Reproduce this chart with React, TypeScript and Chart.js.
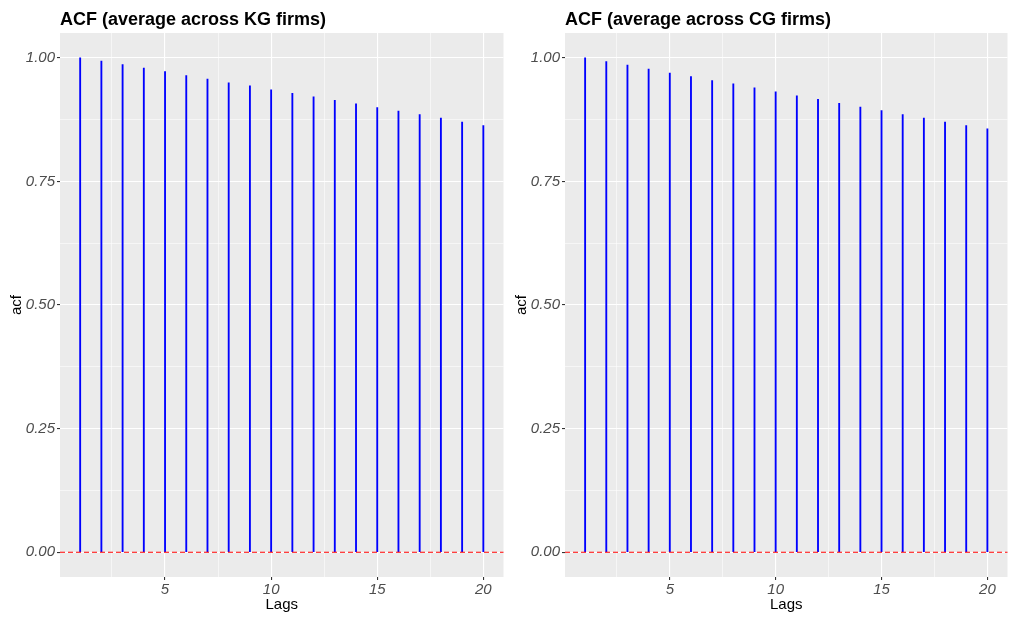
import React, { useEffect, useRef } from "react";
import { Chart, registerables } from "chart.js";
Chart.register(...registerables);

const lags = [1, 2, 3, 4, 5, 6, 7, 8, 9, 10, 11, 12, 13, 14, 15, 16, 17, 18, 19, 20];
const kgAcf = [1.0, 0.993, 0.986, 0.979, 0.972, 0.964, 0.957, 0.949, 0.943, 0.935, 0.928, 0.921, 0.914, 0.907, 0.899, 0.892, 0.885, 0.878, 0.87, 0.863];
const cgAcf = [1.0, 0.992, 0.985, 0.977, 0.969, 0.962, 0.954, 0.947, 0.939, 0.931, 0.923, 0.916, 0.908, 0.9, 0.893, 0.885, 0.878, 0.87, 0.863, 0.856];
const xMajor = [5, 10, 15, 20];
const xMinor = [2.5, 7.5, 12.5, 17.5];
const yMajor = [0, 0.25, 0.5, 0.75, 1];
const yMinor = [0.125, 0.375, 0.625, 0.875];
const refLine = 0;

const FONT = "'Liberation Sans', Arial, Helvetica, sans-serif";

function isMajor(v: number, majors: number[]) {
  return majors.some((m) => Math.abs(m - v) < 1e-9);
}

function Panel({ title, values, left }: { title: string; values: number[]; left: number }) {
  const ref = useRef<HTMLCanvasElement | null>(null);
  useEffect(() => {
    const canvas = ref.current!;
    const bgPlugin = {
      id: "bg",
      beforeDraw(chart: any) {
        const { ctx, chartArea } = chart;
        ctx.save();
        ctx.fillStyle = "#EBEBEB";
        ctx.fillRect(chartArea.left, chartArea.top, chartArea.right - chartArea.left, chartArea.bottom - chartArea.top);
        ctx.restore();
      },
      afterDatasetsDraw(chart: any) {
        const { ctx, chartArea } = chart;
        const y = chart.scales.y.getPixelForValue(refLine);
        ctx.save();
        ctx.strokeStyle = "#FF0000";
        ctx.lineWidth = 1.2;
        ctx.setLineDash([5, 3]);
        ctx.beginPath();
        ctx.moveTo(chartArea.left, y);
        ctx.lineTo(chartArea.right, y);
        ctx.stroke();
        ctx.restore();
      },
      afterDraw(chart: any) {
        const { ctx, chartArea } = chart;
        ctx.save();
        ctx.fillStyle = "#000000";
        ctx.font = `bold 18px ${FONT}`;
        ctx.textBaseline = "alphabetic";
        ctx.textAlign = "left";
        ctx.fillText(title, chartArea.left, 24.5);
        ctx.restore();
      },
    };
    const chart = new Chart(canvas, {
      type: "bar",
      data: {
        datasets: [
          {
            data: lags.map((l, i) => ({ x: l, y: values[i] })),
            backgroundColor: "#0000FF",
            borderWidth: 0,
            barThickness: 1.2,
          } as any,
        ],
      },
      options: {
        animation: false,
        responsive: false,
        devicePixelRatio: 1,
        layout: { padding: { left: 0, right: 1.5, top: 33, bottom: 0 } },
        plugins: { legend: { display: false }, tooltip: { enabled: false }, title: { display: false } },
        scales: {
          x: {
            type: "linear",
            offset: false,
            min: 0.05,
            max: 20.95,
            afterBuildTicks: (scale: any) => {
              scale.ticks = [...xMinor, ...xMajor].sort((a, b) => a - b).map((v) => ({ value: v }));
            },
            afterFit: (scale: any) => {
              scale.height = 41;
            },
            border: { display: false },
            grid: {
              offset: false,
              color: "#FFFFFF",
              lineWidth: (ctx: any) => (isMajor(ctx.tick?.value, xMajor) ? 1.1 : 0.55),
              tickColor: (ctx: any) => (isMajor(ctx.tick?.value, xMajor) ? "#333333" : "rgba(0,0,0,0)"),
              tickWidth: 1.1,
              tickLength: 3,
            },
            ticks: {
              autoSkip: false,
              maxRotation: 0,
              padding: 1,
              color: "#4D4D4D",
              font: { family: FONT, size: 15, style: "italic" },
              callback: (v: any) => (isMajor(Number(v), xMajor) ? String(v) : ""),
            },
            title: {
              display: true,
              text: "Lags",
              color: "#000000",
              font: { family: FONT, size: 15 },
              padding: { top: 0, bottom: 4 },
            },
          },
          y: {
            type: "linear",
            min: -0.05,
            max: 1.05,
            afterBuildTicks: (scale: any) => {
              scale.ticks = [...yMajor, ...yMinor].sort((a, b) => a - b).map((v) => ({ value: v }));
            },
            afterFit: (scale: any) => {
              scale.width = 60;
            },
            border: { display: false },
            grid: {
              color: "#FFFFFF",
              lineWidth: (ctx: any) => (isMajor(ctx.tick?.value, yMajor) ? 1.1 : 0.55),
              tickColor: (ctx: any) => (isMajor(ctx.tick?.value, yMajor) ? "#333333" : "rgba(0,0,0,0)"),
              tickWidth: 1.1,
              tickLength: 3,
            },
            ticks: {
              autoSkip: false,
              padding: 2,
              color: "#4D4D4D",
              font: { family: FONT, size: 15, style: "italic" },
              callback: (v: any) => (isMajor(Number(v), yMajor) ? Number(v).toFixed(2) : ""),
            },
            title: {
              display: true,
              text: "acf",
              color: "#000000",
              font: { family: FONT, size: 15 },
              padding: { top: 8, bottom: 0 },
            },
          },
        },
      } as any,
      plugins: [bgPlugin],
    });
    return () => chart.destroy();
  }, [title, values]);
  return (
    <canvas
      ref={ref}
      width={left === 0 ? 505 : 504}
      height={618}
      style={{ position: "absolute", left, top: 0, width: left === 0 ? 505 : 504, height: 618 }}
    />
  );
}

export default function App() {
  useEffect(() => {
    document.body.style.margin = "0";
    document.body.style.background = "#FFFFFF";
  }, []);
  return (
    <div style={{ position: "relative", width: 1009, height: 618, background: "#FFFFFF", overflow: "hidden" }}>
      <Panel title="ACF (average across KG firms)" values={kgAcf} left={0} />
      <Panel title="ACF (average across CG firms)" values={cgAcf} left={505} />
    </div>
  );
}
